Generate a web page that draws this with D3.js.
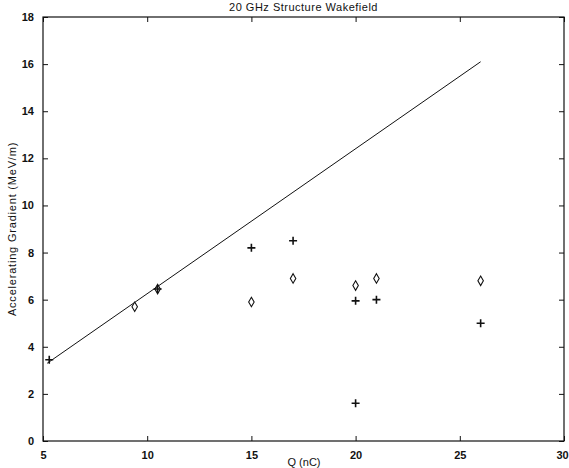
<!DOCTYPE html>
<html>
<head>
<meta charset="utf-8">
<script src="https://cdn.jsdelivr.net/npm/d3@7"></script>
<style>
  body { margin: 0; background: #fff; }
  svg { display: block; font-family: "Liberation Sans", Arial, sans-serif; }
</style>
</head>
<body>
<div id="chart"></div>
<script>
// fit line (start / end)
const lineQ = [5.2, 26];
const lineG = [3.3, 16.1];

// measured points, plus markers
const plusQ = [5.3, 10.5, 15, 17, 20, 20, 21, 26];
const plusG = [3.45, 6.45, 8.2, 8.5, 5.95, 1.6, 6.0, 5.0];

// measured points, open markers
const openQ = [9.4, 10.5, 15, 17, 20, 21, 26];
const openG = [5.7, 6.45, 5.9, 6.9, 6.6, 6.9, 6.8];

const xTicks = [5, 10, 15, 20, 25, 30];
const yTicks = [0, 2, 4, 6, 8, 10, 12, 14, 16, 18];

const W = 569, H = 468;
const mLeft = 43, mRight = 564, mTop = 17, mBottom = 441;
const ink = "#111";

const svg = d3.select("#chart").append("svg")
  .attr("width", W).attr("height", H);

const x = d3.scaleLinear().domain([5, 30]).range([mLeft, mRight]);
const y = d3.scaleLinear().domain([0, 18]).range([mBottom, mTop]);

// axes, matlab style: ticks pointing inward on all four sides
const tk = 5;
const styleAxis = (g) => {
  g.select(".domain").remove();
  g.selectAll("line").attr("stroke", ink);
  g.selectAll("text").attr("fill", ink).attr("font-size", 11).attr("font-weight", "bold");
};

svg.append("g").attr("transform", `translate(0,${mBottom})`)
  .call(d3.axisBottom(x).tickValues(xTicks).tickSize(-tk).tickPadding(10))
  .call(styleAxis)
  .call(g => g.selectAll(".tick text").filter(d => d === 30).attr("dx", -2));
svg.append("g").attr("transform", `translate(0,${mTop})`)
  .call(d3.axisTop(x).tickValues(xTicks).tickSize(-tk).tickFormat(""))
  .call(styleAxis);
svg.append("g").attr("transform", `translate(${mLeft},0)`)
  .call(d3.axisLeft(y).tickValues(yTicks).tickSize(-tk).tickPadding(9))
  .call(styleAxis);
svg.append("g").attr("transform", `translate(${mRight},0)`)
  .call(d3.axisRight(y).tickValues(yTicks).tickSize(-tk).tickFormat(""))
  .call(styleAxis);

svg.append("rect")
  .attr("x", mLeft).attr("y", mTop)
  .attr("width", mRight - mLeft).attr("height", mBottom - mTop)
  .attr("fill", "none").attr("stroke", ink).attr("stroke-width", 1.2);

// fit line
svg.append("path")
  .datum(d3.zip(lineQ, lineG))
  .attr("d", d3.line().x(d => x(d[0])).y(d => y(d[1])))
  .attr("fill", "none").attr("stroke", ink).attr("stroke-width", 1);

// plus markers
svg.append("g").selectAll("path")
  .data(d3.zip(plusQ, plusG))
  .join("path")
  .attr("transform", d => `translate(${x(d[0])},${y(d[1])})`)
  .attr("d", "M-4,0H4M0,-4V4")
  .attr("stroke", ink).attr("stroke-width", 1.6);

// open markers
svg.append("g").selectAll("path")
  .data(d3.zip(openQ, openG))
  .join("path")
  .attr("transform", d => `translate(${x(d[0])},${y(d[1])})`)
  .attr("d", d3.symbol(d3.symbolDiamond, 26))
  .attr("fill", "none").attr("stroke", ink).attr("stroke-width", 1.1);

// titles
svg.append("text")
  .attr("x", (mLeft + mRight) / 2).attr("y", 11)
  .attr("text-anchor", "middle").attr("font-size", 11).attr("letter-spacing", 0.5)
  .attr("fill", ink)
  .text("20 GHz Structure Wakefield");

svg.append("text")
  .attr("x", 304).attr("y", 466)
  .attr("text-anchor", "middle").attr("font-size", 11).attr("fill", ink)
  .text("Q (nC)");

svg.append("text")
  .attr("transform", `translate(16,${(mTop + mBottom) / 2}) rotate(-90)`)
  .attr("text-anchor", "middle").attr("font-size", 11).attr("letter-spacing", 0.8)
  .attr("fill", ink)
  .text("Accelerating Gradient (MeV/m)");
</script>
</body>
</html>
